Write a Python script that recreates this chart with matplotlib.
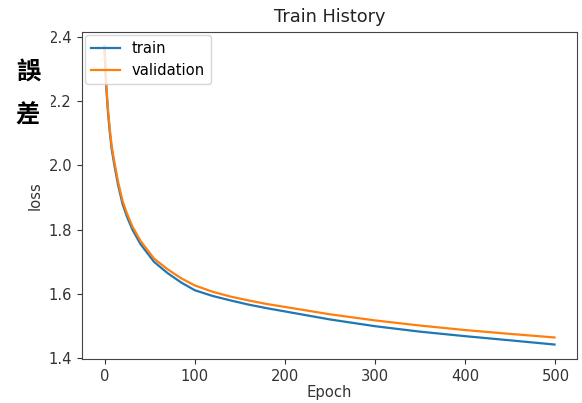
import matplotlib
matplotlib.use("Agg")
from matplotlib import pyplot as plt
from matplotlib.patches import Rectangle

# values
epochs = [0, 1, 2, 4, 6, 8, 11, 15, 20, 25, 31, 40, 55, 70, 85, 100, 120, 140, 160, 180,
          200, 250, 300, 350, 400, 450, 499]
train_loss = [2.37, 2.30, 2.24, 2.16, 2.10, 2.05, 2.00, 1.94, 1.88, 1.84, 1.80, 1.755, 1.70,
              1.665, 1.636, 1.612, 1.594, 1.58, 1.567, 1.556, 1.546, 1.521, 1.5, 1.483, 1.469,
              1.456, 1.443]
val_loss = [2.37, 2.31, 2.25, 2.17, 2.11, 2.06, 2.01, 1.95, 1.89, 1.85, 1.81, 1.765, 1.71,
            1.677, 1.649, 1.627, 1.607, 1.592, 1.58, 1.569, 1.56, 1.537, 1.518, 1.502, 1.488,
            1.476, 1.465]
legend_labels = ['train', 'validation']
overlay_text = ['誤', '差']

W, H = 582, 403
fig = plt.figure(figsize=(W / 100, H / 100), dpi=100)
ax = fig.add_axes([82 / W, 1 - 359 / H, (577 - 82) / W, (359 - 32) / H])

ax.plot(epochs, train_loss, color='#1f77b4', lw=1.6, label=legend_labels[0])
ax.plot(epochs, val_loss, color='#ff7f0e', lw=1.6, label=legend_labels[1])

ax.set_xlim(-24.95, 523.95)
ax.set_ylim(1.398, 2.415)
ax.set_xticks([0, 100, 200, 300, 400, 500])
ax.set_yticks([1.4, 1.6, 1.8, 2.0, 2.2, 2.4])
ax.tick_params(labelsize=10.6, length=3.7, color='#333333', labelcolor='#333333')
ax.set_title('Train History', fontsize=12.8, color='#222222', pad=7)
ax.set_xlabel('Epoch', fontsize=10.6, color='#333333', labelpad=1)
ax.set_ylabel('loss', fontsize=10.6, color='#333333', labelpad=4)
for s in ax.spines.values():
    s.set_color('#444444')
ax.legend(loc='upper left', fontsize=10.6, borderaxespad=0.2)

# white patch covering the left edge with the overlaid characters
fig.add_artist(Rectangle((0, 1 - 140 / H), 51 / W, 110 / H, transform=fig.transFigure,
                         facecolor='white', edgecolor='none', zorder=5))
for ch, yp in zip(overlay_text, [73, 116]):
    fig.text(28 / W, 1 - yp / H, ch, fontsize=17.5, fontweight='bold', color='black',
             family=['Noto Sans CJK TC', 'DejaVu Sans'], ha='center', va='center', zorder=6)

fig.savefig('out.png', dpi=100)
